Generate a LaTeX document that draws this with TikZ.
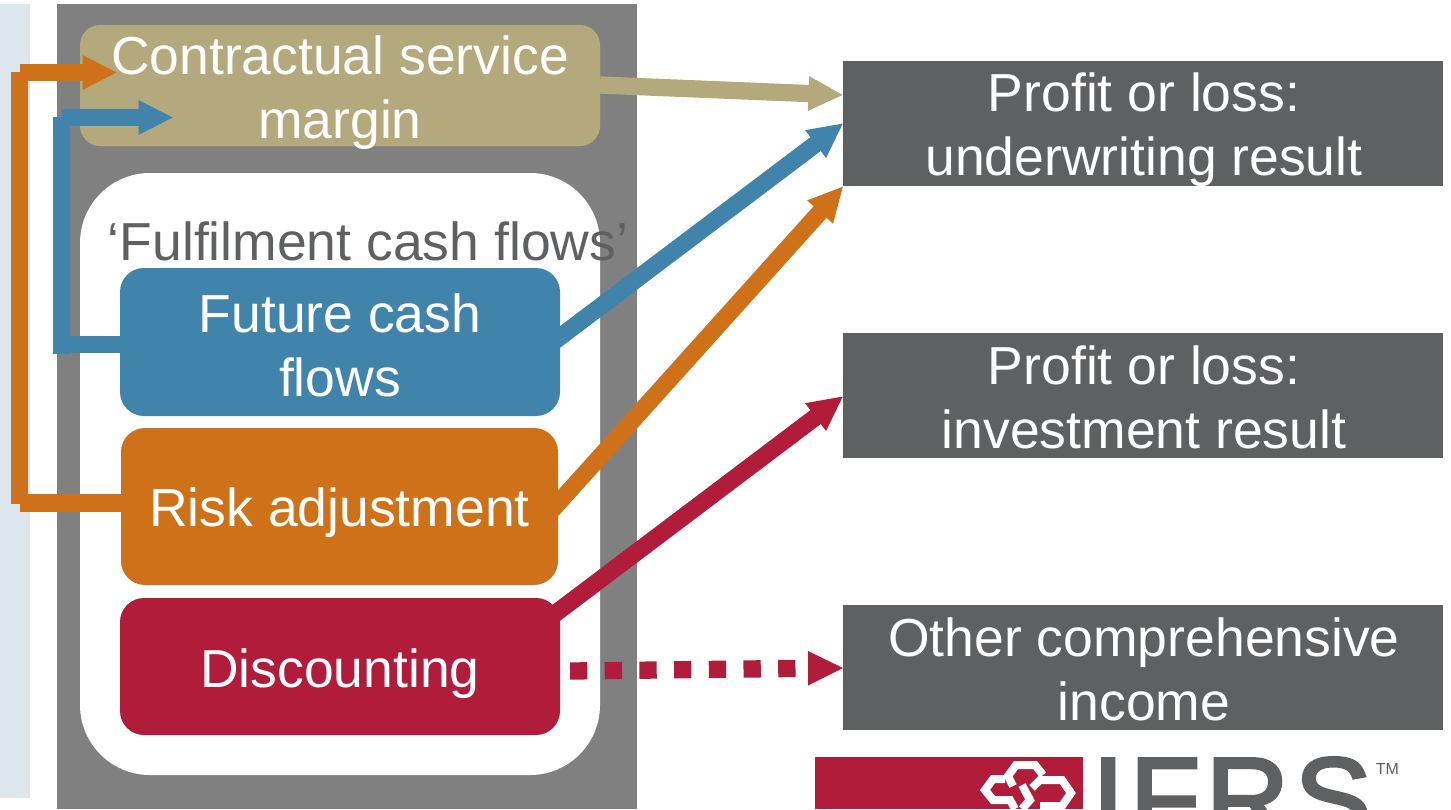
\documentclass[tikz,border=0pt]{standalone}
\usepackage{fontspec}
\setmainfont{Liberation Sans}
\newfontfamily\logofont[FakeBold=3,LetterSpace=5]{Liberation Sans}
\usetikzlibrary{arrows.meta}
\definecolor{panelgrey}{HTML}{808080}
\definecolor{paleblue}{HTML}{DEE6ED}
\definecolor{tan}{HTML}{B3A97D}
\definecolor{blu}{HTML}{4084AB}
\definecolor{org}{HTML}{CE7119}
\definecolor{rd}{HTML}{B01C3A}
\definecolor{dk}{HTML}{5F6062}
\tikzset{
 x=1pt,y=-1pt,
 box/.style={draw=none,inner sep=0pt,outer sep=0pt,anchor=north west},
 boxtext/.style={inner sep=0pt,align=center,text=white,font=\fontsize{53.5}{64}\selectfont},
 flow/.style={line width=17.3pt,line cap=butt,line join=miter},
 tipped/.style={flow,-{Triangle[length=35pt,width=32pt]}},
}
\begin{document}
\begin{tikzpicture}
\useasboundingbox (0,0) rectangle (1451,809);
\clip (0,0) rectangle (1451,809);
\fill[paleblue] (0,4) rectangle (30,798);
\fill[panelgrey] (57,4) rectangle (637,809);
\fill[white,rounded corners=70pt] (80,173) rectangle (600,775);
\node[box,fill=tan,rounded corners=20pt,minimum width=520pt,minimum height=121pt] (csm) at (80,25) {};
\node[boxtext,yshift=-7pt] (csmtext) at (csm.center) {Contractual service\\margin};
\node[font=\fontsize{53.5}{64}\selectfont,text=dk,inner sep=0pt] (fcf) at (368,241) {‘Fulfilment cash flows’};
\node[box,fill=blu,rounded corners=24pt,minimum width=440pt,minimum height=148pt] (fut) at (120,268) {};
\node[boxtext,yshift=-3pt] (futtext) at (fut.center) {Future cash\\flows};
\node[box,fill=org,rounded corners=24pt,minimum width=437pt,minimum height=157pt] (risk) at (121,428) {};
\node[boxtext,yshift=-6pt] (risktext) at (risk.center) {Risk adjustment};
\node[box,fill=rd,rounded corners=24pt,minimum width=440pt,minimum height=137pt] (disc) at (120,598) {};
\node[boxtext,yshift=-7pt] (disctext) at (disc.center) {Discounting};
\node[box,fill=dk,minimum width=600pt,minimum height=125pt] (uw) at (843,61) {};
\node[boxtext,xshift=1pt,yshift=-6.5pt] (uwtext) at (uw.center) {Profit or loss:\\underwriting result};
\node[box,fill=dk,minimum width=600pt,minimum height=125pt] (inv) at (843,333) {};
\node[boxtext,xshift=1pt,yshift=-1.5pt] (invtext) at (inv.center) {Profit or loss:\\investment result};
\node[box,fill=dk,minimum width=600pt,minimum height=125pt] (oci) at (843,605) {};
\node[boxtext,xshift=1pt,yshift=-2pt] (ocitext) at (oci.center) {Other comprehensive\\income};
% elbow connectors
\coordinate (ot) at (19.5,72.5);
\coordinate (ob) at (19.5,503);
\coordinate (bt) at (61.5,117.5);
\coordinate (bb) at (61.5,344.5);
\draw[flow,org] (risk.west |- ob) -- (ob);
\draw[flow,org] (ob |- 0,503.5) -- (ob |- 0,72);
\draw[tipped,org] (ot) -- (117.5,72.5);
\draw[flow,blu] (fut.west |- bb) -- (bb);
\draw[flow,blu] (bb |- 0,353.5) -- (bb |- 0,117);
\draw[tipped,blu] (bt) -- (173.5,117.5);
% right connectors
\coordinate (t1) at (843.5,95);
\coordinate (t2) at (843.5,123);
\coordinate (t3) at (843.5,186);
\coordinate (t4) at (843.5,396);
\coordinate (t5) at (843,668);
\draw[tipped,tan] (600,85) -- (t1);
\draw[tipped,blu] (552,343) -- (t2);
\draw[tipped,org] (552,510) -- (t3);
\draw[tipped,rd] (552,616) -- (t4);
\draw[flow,rd,dash pattern=on 17.3pt off 17.4pt] (570,671) -- (808,668.3);
\fill[rd] (808,651) -- (t5) -- (808,685.5) -- cycle;
% logo
\fill[rd] (815,757) rectangle (1083,809);
\begin{scope}[white,line width=8pt,line join=miter]
\draw (1013,786) -- (1008,776) -- (1016,765) -- (1035,765) -- (1043,775);
\draw (1005,779) -- (993,779) -- (985,790) -- (993,800) -- (1010,800) -- (1015,809);
\draw (1032,788) -- (1040,780) -- (1062,780) -- (1071,793) -- (1062,806) -- (1040,806);
\draw (1022,785) -- (1030,800) -- (1022,809);
\end{scope}
\node[inner sep=0pt,anchor=base west,text=dk,font=\logofont\fontsize{115}{115}\selectfont] (ifrs) at (1092,838) {IFRS};
\node[inner sep=0pt,text=dk,font=\fontsize{16}{16}\selectfont] (tm) at (1387.5,768.5) {TM};
\end{tikzpicture}
\end{document}
